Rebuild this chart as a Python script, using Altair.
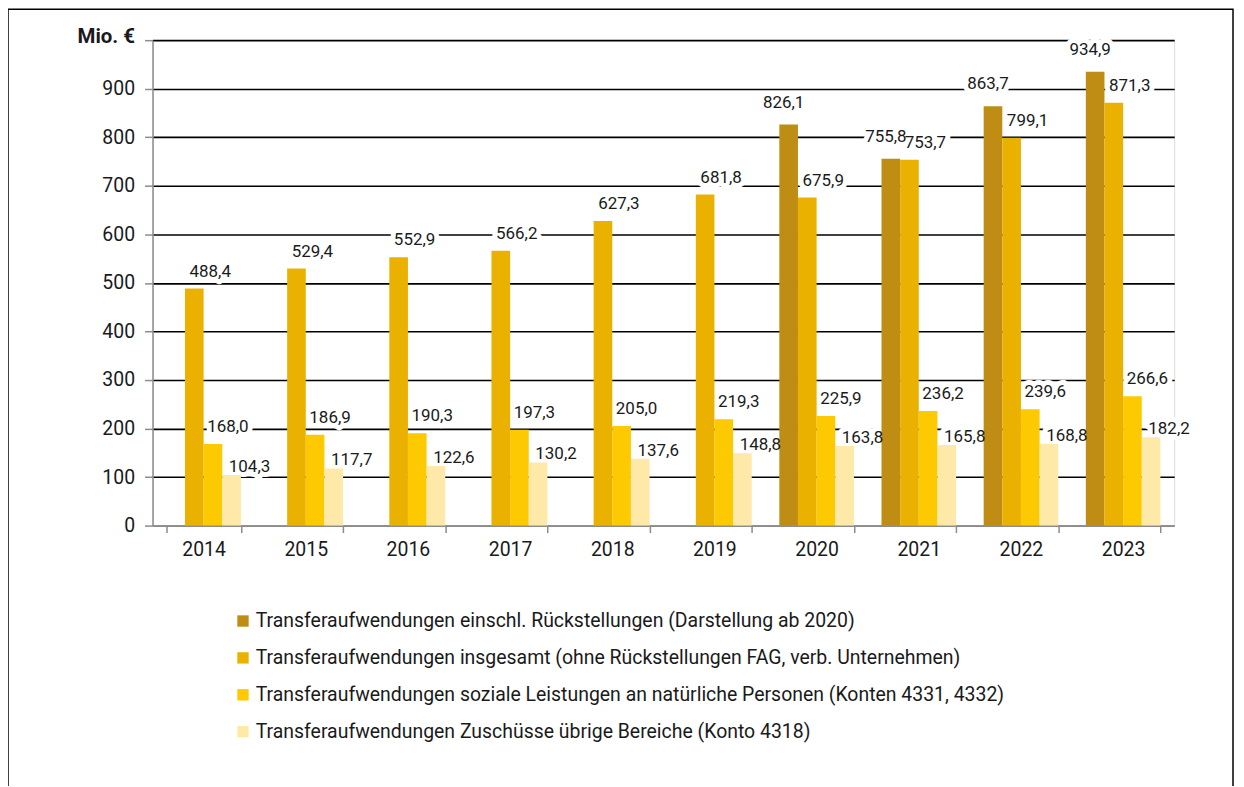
import altair as alt
import pandas as pd

years = ["2014", "2015", "2016", "2017", "2018", "2019", "2020", "2021", "2022", "2023"]
series = [
    "Transferaufwendungen einschl. Rückstellungen (Darstellung ab 2020)",
    "Transferaufwendungen insgesamt (ohne Rückstellungen FAG,  verb. Unternehmen)",
    "Transferaufwendungen soziale Leistungen an natürliche Personen (Konten 4331, 4332)",
    "Transferaufwendungen Zuschüsse übrige Bereiche (Konto 4318)",
]
rueckstellungen = [None, None, None, None, None, None, 826.1, 755.8, 863.7, 934.9]
insgesamt = [488.4, 529.4, 552.9, 566.2, 627.3, 681.8, 675.9, 753.7, 799.1, 871.3]
soziale = [168.0, 186.9, 190.3, 197.3, 205.0, 219.3, 225.9, 236.2, 239.6, 266.6]
zuschuesse = [104.3, 117.7, 122.6, 130.2, 137.6, 148.8, 163.8, 165.8, 168.8, 182.2]
colors = ["#BF8D14", "#EBB100", "#FDC900", "#FFE9A8"]

rows = []
for s, vals in zip(series, [rueckstellungen, insgesamt, soziale, zuschuesse]):
    for y, v in zip(years, vals):
        if v is not None:
            rows.append({"Jahr": y, "Reihe": s, "Wert": v})
df = pd.DataFrame(rows)

FONT = "Roboto"
TXT = "#1a1a1a"
W = 400

x_enc = alt.X("Jahr:N", sort=years,
              scale=alt.Scale(paddingInner=0.27, paddingOuter=0.135),
              axis=alt.Axis(title=None, labelFontSize=19.5, labelColor=TXT, labelFont=FONT,
                            labelFontWeight=W, labelAngle=0, tickBand="extent",
                            domainColor="#8c8c8c", domainWidth=1.5, tickColor="#8c8c8c",
                            tickWidth=1.5, tickSize=7, labelPadding=8, grid=False))
xo_enc = alt.XOffset("Reihe:N", sort=series, scale=alt.Scale(domain=series, paddingInner=0, paddingOuter=0))
y_enc = alt.Y("Wert:Q", scale=alt.Scale(domain=[0, 1000], nice=False),
              axis=alt.Axis(values=list(range(0, 1001, 100)),
                            labelExpr="datum.value == 1000 ? '' : datum.label",
                            title="Mio. €", titleAngle=0, titleAlign="right", titleBaseline="middle",
                            titleX=-18, titleY=-4, titleFontSize=20.5, titleFont=FONT,
                            titleFontWeight="bold", titleColor=TXT,
                            labelFontSize=19.5, labelFont=FONT, labelFontWeight=W, labelColor=TXT,
                            labelPadding=10, tickSize=8, tickColor="#8c8c8c", tickWidth=1.5,
                            domainColor="#8c8c8c", domainWidth=1.5,
                            grid=True,
                            gridColor={"condition": {"test": "datum.value === 0", "value": "#8c8c8c"}, "value": "#000000"},
                            gridWidth=1.6, format="d"))

base = alt.Chart(df)

bars = base.mark_bar().encode(
    x=x_enc,
    xOffset=xo_enc,
    y=y_enc,
    color=alt.Color("Reihe:N", sort=series, scale=alt.Scale(domain=series, range=colors),
                    legend=alt.Legend(title=None, orient="none", legendX=81, legendY=573,
                                      direction="vertical", symbolType="square", symbolSize=130,
                                      symbolStrokeWidth=0, labelFontSize=19.5, labelFont=FONT,
                                      labelFontWeight=W, labelColor=TXT, labelLimit=1200,
                                      rowPadding=16, labelOffset=3)),
)

offsets = [(-5, -22), (16, -17), (15, -17), (18, -8)]
halos = []
texts = []
for s, (dx, dy) in zip(series, offsets):
    sub = base.transform_filter(alt.datum.Reihe == s).transform_calculate(
        label="replace(format(datum.Wert, '.1f'), '.', ',')")
    enc = dict(x=x_enc, xOffset=xo_enc, y=y_enc, text="label:N")
    halos.append(sub.mark_text(dx=dx, dy=dy, fontSize=17, font=FONT, fontWeight=W, baseline="middle",
                               align="center", color="white", stroke="white", strokeWidth=10,
                               strokeJoin="round").encode(**enc))
    texts.append(sub.mark_text(dx=dx, dy=dy, fontSize=17, font=FONT, fontWeight=W, baseline="middle",
                               align="center", color=TXT).encode(**enc))

frame = alt.Chart(alt.Data(values=[{"f": 1}])).mark_rect(fill=None, stroke="#000000", strokeWidth=1.5).encode(
    x=alt.value(-145), x2=alt.value(1084), y=alt.value(-31), y2=alt.value(790))

chart = alt.layer(*halos, bars, *texts, frame).properties(
    width=1025, height=487,
    autosize=alt.AutoSizeParams(type="none"),
    padding={"left": 145, "top": 31, "right": 62, "bottom": 260},
).configure_view(stroke=None).configure(font=FONT)

chart.save("out.html", embed_options={"renderer": "svg", "actions": False})
